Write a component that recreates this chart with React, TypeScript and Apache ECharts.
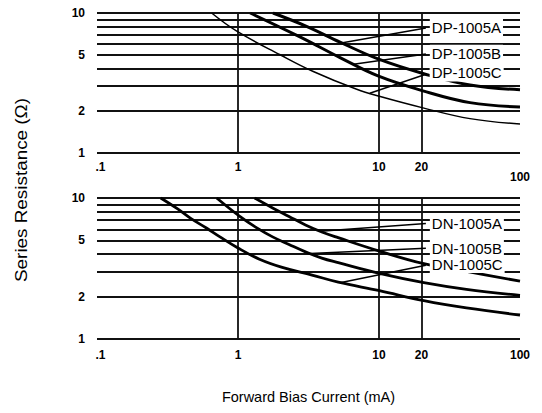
import React, { useEffect, useRef } from 'react';
import * as echarts from 'echarts';

// Axis ticks (log scales)
const currentLabelTicks = [0.1, 1, 10, 20, 100];
const currentGridLines = [1, 10, 20];
const resistanceGridLines = [1, 2, 3, 4, 5, 6, 7, 8, 9, 10];
const resistanceLabelTicks = [1, 2, 5, 10];

// Series names
const dpNames = ['DP-1005A', 'DP-1005B', 'DP-1005C'];
const dnNames = ['DN-1005A', 'DN-1005B', 'DN-1005C'];

// [forward current (mA), series resistance (Ohm)]
const dp1005A = [[1.77, 10], [3.09, 8.0], [5.29, 6.19], [9.84, 4.7], [20.5, 3.7], [44.2, 3.06], [100, 2.83]];
const dp1005B = [[1.22, 10], [2.75, 6.75], [5.29, 4.8], [9.84, 3.55], [20.5, 2.78], [44.2, 2.29], [100, 2.13]];
const dp1005C = [[0.65, 10], [0.98, 7.42], [1.99, 5.03], [3.42, 3.82], [6.95, 2.85], [10.2, 2.53], [20.5, 2.1], [44.2, 1.76], [100, 1.61]];

const dn1005A = [[1.31, 10], [1.76, 8.5], [2.3, 7.4], [3.01, 6.44], [3.93, 5.74], [5.13, 5.23], [10.07, 4.2], [20.8, 3.42], [41.7, 3.02], [100, 2.57]];
const dn1005B = [[0.706, 10], [1.03, 7.4], [1.35, 6.16], [1.76, 5.3], [2.3, 4.68], [3.01, 4.15], [3.93, 3.75], [5.14, 3.48], [10.07, 2.92], [20.8, 2.51], [41.7, 2.25], [100, 2.04]];
const dn1005C = [[0.283, 10], [0.371, 8.4], [0.459, 7.2], [0.601, 6.1], [0.745, 5.3], [1.0, 4.42], [1.42, 3.68], [2.06, 3.22], [3.35, 2.84], [5.14, 2.53], [10.07, 2.2], [20.8, 1.87], [41.7, 1.66], [100, 1.48]];

// Callout leaders: point on curve -> label anchor, [mA, Ohm]
const dpLeaderTips = [[5.4, 6.1], [6.6, 4.3], [8.6, 2.67]];
const dpLabelAnchors = [[21.5, 7.8], [21.5, 5.1], [21.5, 3.65]];
const dnLeaderTips = [[3.83, 5.8], [3.26, 4.04], [5.29, 2.51]];
const dnLabelAnchors = [[21.5, 6.6], [21.5, 4.4], [21.5, 3.33]];

const FONT = '"Liberation Sans", Arial, Helvetica, sans-serif';
const INK = '#111';

function makeXAxis(gridIndex: number, top: boolean) {
  return {
    type: 'log',
    logBase: 10,
    gridIndex,
    min: 0.1,
    max: 100,
    axisLine: { show: false },
    axisTick: { show: false, customValues: currentGridLines },
    splitLine: { show: true, lineStyle: { color: INK, width: 1.8 } },
    axisLabel: {
      customValues: currentLabelTicks,
      margin: top ? 8 : 10,
      color: '#000',
      fontFamily: FONT,
      fontWeight: 'bold',
      fontSize: 12,
      formatter: (v: number) => {
        if (v < 0.5) return '{dot|.1}';
        if (top && v > 50) return '{low|100}';
        return String(Math.round(v));
      },
      rich: {
        low: { padding: [10, 0, 0, 0], fontFamily: FONT, fontWeight: 'bold', fontSize: 12, color: '#000' },
        dot: { padding: [0, 0, 0, 7], fontFamily: FONT, fontWeight: 'bold', fontSize: 12, color: '#000' },
      },
    },
    ...(top
      ? {}
      : {
          name: 'Forward Bias Current (mA)',
          nameLocation: 'middle',
          nameGap: 50,
          nameTextStyle: { fontFamily: FONT, fontSize: 14.5, color: '#000' },
        }),
  };
}

function makeYAxis(gridIndex: number) {
  return {
    type: 'log',
    logBase: 10,
    gridIndex,
    min: 1,
    max: 10,
    axisLine: { show: false },
    axisTick: { show: false, customValues: resistanceGridLines },
    splitLine: { show: true, lineStyle: { color: INK, width: 1.8 } },
    axisLabel: {
      customValues: resistanceLabelTicks,
      margin: 12,
      color: '#000',
      fontFamily: FONT,
      fontWeight: 'bold',
      fontSize: 12,
      formatter: (v: number) => String(Math.round(v)),
    },
  };
}

function curve(name: string, data: number[][], idx: number, width: number, tip: number[], anchor: number[]) {
  return {
    type: 'line',
    name,
    xAxisIndex: idx,
    yAxisIndex: idx,
    data,
    showSymbol: false,
    symbol: 'none',
    smooth: 0.4,
    silent: true,
    emphasis: { disabled: true },
    lineStyle: { color: '#000', width },
    markLine: {
      silent: true,
      symbol: ['none', 'none'],
      lineStyle: { color: '#000', width: 1.5, type: 'solid' },
      emphasis: { disabled: true },
      label: {
        show: true,
        position: 'end',
        distance: 4,
        formatter: name,
        fontFamily: FONT,
        fontSize: 15,
        color: '#000',
        backgroundColor: '#fff',
        padding: [1, 2, 1, 2],
      },
      data: [[{ coord: tip }, { coord: anchor }]],
    },
  };
}

export default function App() {
  const ref = useRef<HTMLDivElement>(null);
  useEffect(() => {
    if (!ref.current) return;
    const chart = echarts.init(ref.current, null, { renderer: 'svg' });
    const option = {
      animation: false,
      backgroundColor: '#fff',
      grid: [
        { left: 97, right: 22, top: 13, height: 140, outerBoundsMode: 'none' },
        { left: 97, right: 22, top: 198, height: 141, outerBoundsMode: 'none' },
      ],
      xAxis: [makeXAxis(0, true), makeXAxis(1, false)],
      yAxis: [makeYAxis(0), makeYAxis(1)],
      graphic: [
        {
          type: 'text',
          x: 22,
          y: 190,
          rotation: Math.PI / 2,
          scaleX: 1.18,
          silent: true,
          style: {
            text: 'Series Resistance (Ω)',
            font: `16px ${FONT}`,
            fill: '#000',
            textAlign: 'center',
            textVerticalAlign: 'middle',
          },
        },
      ],
      series: [
        curve(dpNames[0], dp1005A, 0, 3, dpLeaderTips[0], dpLabelAnchors[0]),
        curve(dpNames[1], dp1005B, 0, 3, dpLeaderTips[1], dpLabelAnchors[1]),
        curve(dpNames[2], dp1005C, 0, 1.5, dpLeaderTips[2], dpLabelAnchors[2]),
        curve(dnNames[0], dn1005A, 1, 2.8, dnLeaderTips[0], dnLabelAnchors[0]),
        curve(dnNames[1], dn1005B, 1, 2.8, dnLeaderTips[1], dnLabelAnchors[1]),
        curve(dnNames[2], dn1005C, 1, 2.8, dnLeaderTips[2], dnLabelAnchors[2]),
      ],
    };
    chart.setOption(option as any);
    return () => chart.dispose();
  }, []);
  return <div ref={ref} style={{ position: 'fixed', left: 0, top: 0, width: 542, height: 413 }} />;
}
